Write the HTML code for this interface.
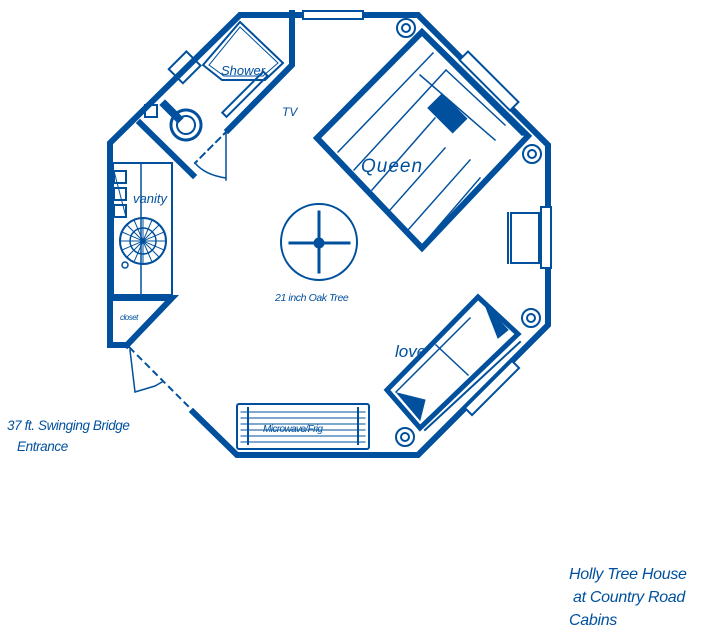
<!DOCTYPE html>
<html><head><style>
body{margin:0;background:#fff;}
svg{display:block}
text{font-family:"Liberation Sans",sans-serif;font-style:italic;fill:#00509d}
</style></head><body>
<svg width="706" height="636" viewBox="0 0 706 636" xmlns="http://www.w3.org/2000/svg">
<g stroke="#00509d" fill="none" stroke-linecap="square">
<polyline points="193,412 237,455 418,455 548,325 548,145 418,15 240,15 110,143 110,345 127,345" stroke-width="6"/>
<rect x="303" y="11" width="60" height="8" fill="#fff" stroke-width="2"/>
<rect x="541" y="207" width="10" height="61" fill="#fff" stroke-width="2"/>
<line x1="468" y1="60" x2="510" y2="102" stroke-width="14"/>
<line x1="468" y1="60" x2="510" y2="102" stroke-width="10" stroke="#fff"/>
<line x1="472" y1="408" x2="512" y2="368" stroke-width="12"/>
<line x1="472" y1="408" x2="512" y2="368" stroke-width="8" stroke="#fff"/>
<polyline points="292,13 292,65 228,130" stroke-width="6"/>
<line x1="140" y1="123" x2="193" y2="175" stroke-width="6"/>
<line x1="228" y1="130" x2="195" y2="163" stroke-width="2" stroke-dasharray="6,5"/>
<path d="M226,133 L226,180 M195,163 Q205,175 226,178" stroke-width="1.5"/>
<polygon points="240,22 283,63 265,80 222,80 203,65" stroke-width="2"/>
<polygon points="240,27 278,63 263,76 224,76 209,65" stroke-width="1"/>
<rect x="175" y="55" width="20" height="25" transform="rotate(45 185 67)" stroke-width="2"/>
<rect x="145" y="105" width="12" height="12" stroke-width="2"/>
<circle cx="186" cy="125" r="15" stroke-width="3" stroke-dasharray="2,1.5"/>
<circle cx="186" cy="125" r="9" stroke-width="2" stroke-dasharray="1,1"/>
<line x1="165" y1="105" x2="178" y2="118" stroke-width="8"/>
<rect x="254" y="86" width="6" height="58" transform="rotate(45 276 90)" stroke-width="2"/>
<rect x="113" y="163" width="59" height="132" stroke-width="2"/>
<line x1="141" y1="163" x2="141" y2="295" stroke-width="1.5"/>
<rect x="114" y="171" width="12" height="12" stroke-width="2"/>
<rect x="114" y="188" width="12" height="12" stroke-width="2"/>
<rect x="114" y="205" width="12" height="12" stroke-width="2"/>
<line x1="114" y1="171" x2="126" y2="217" stroke-width="1"/>
<circle cx="143" cy="241" r="23" stroke-width="2"/>
<circle cx="143" cy="241" r="13" stroke-width="1.5"/>
<g stroke-width="1">
<line x1="120" y1="241" x2="166" y2="241"/><line x1="143" y1="218" x2="143" y2="264"/>
<line x1="127" y1="225" x2="159" y2="257"/><line x1="159" y1="225" x2="127" y2="257"/>
<line x1="122" y1="232" x2="164" y2="250"/><line x1="122" y1="250" x2="164" y2="232"/>
<line x1="134" y1="220" x2="152" y2="262"/><line x1="152" y1="220" x2="134" y2="262"/>
</g>
<circle cx="125" cy="265" r="3" stroke-width="1.5"/>
<polyline points="110,298 172,298 127,345" stroke-width="6"/>
<line x1="130" y1="348" x2="190" y2="408" stroke-width="2" stroke-dasharray="5,6"/>
<path d="M130,350 L135,392 L155,386 L162,382" stroke-width="1.5"/>
<circle cx="319" cy="242" r="38" stroke-width="2"/>
<line x1="290" y1="243" x2="349" y2="243" stroke-width="3"/>
<line x1="319" y1="212" x2="319" y2="272" stroke-width="3"/>
<circle cx="319" cy="243" r="5" fill="#00509d"/>
<polygon points="422,32 528,136 422,248 317,138" stroke-width="6"/>
<g stroke-width="1.5">
<line x1="338" y1="152" x2="433" y2="53"/>
<line x1="354" y1="170" x2="446" y2="70"/>
<line x1="372" y1="190" x2="435" y2="118"/>
<line x1="390" y1="210" x2="445" y2="148"/>
<line x1="408" y1="230" x2="470" y2="160"/>
<line x1="425" y1="242" x2="480" y2="178"/>
<line x1="426" y1="38" x2="522" y2="134" stroke-width="3"/>
<line x1="434" y1="46" x2="514" y2="126"/>
<line x1="446" y1="70" x2="505" y2="125"/>
<line x1="420" y1="75" x2="495" y2="140"/>
</g>
<rect x="430" y="103" width="35" height="20" transform="rotate(45 447 113)" fill="#00509d" stroke-width="1"/>
<g stroke-width="2">
<circle cx="406" cy="28" r="9"/><circle cx="406" cy="28" r="4"/>
<circle cx="532" cy="154" r="9"/><circle cx="532" cy="154" r="4"/>
<circle cx="531" cy="318" r="9"/><circle cx="531" cy="318" r="4"/>
<circle cx="405" cy="437" r="9"/><circle cx="405" cy="437" r="4"/>
</g>
<rect x="511" y="213" width="28" height="50" stroke-width="2"/>
<line x1="508" y1="213" x2="508" y2="263" stroke-width="2"/>
<polygon points="478,297 518,334 420,428 387,390" stroke-width="5"/>
<line x1="396" y1="392" x2="470" y2="318" stroke-width="1.5"/>
<line x1="436" y1="345" x2="468" y2="375" stroke-width="1.5"/>
<line x1="425" y1="430" x2="520" y2="342" stroke-width="2"/>
<polygon points="485,305 508,330 498,338" fill="#00509d" stroke-width="1"/>
<polygon points="397,393 425,400 420,420" fill="#00509d" stroke-width="1"/>
<rect x="237" y="404" width="132" height="45" rx="2" stroke-width="2"/>
<g stroke-width="1">
<line x1="241" y1="412" x2="365" y2="412"/><line x1="241" y1="418" x2="365" y2="418"/>
<line x1="241" y1="424" x2="365" y2="424"/><line x1="241" y1="430" x2="365" y2="430"/>
<line x1="241" y1="436" x2="365" y2="436"/><line x1="241" y1="442" x2="365" y2="442"/>
</g>
<line x1="248" y1="408" x2="248" y2="444" stroke-width="2"/>
<line x1="358" y1="408" x2="358" y2="444" stroke-width="2"/>
</g>
<text x="221" y="75" font-size="13">Shower</text>
<text x="282" y="116" font-size="12">TV</text>
<text x="133" y="203" font-size="13">vanity</text>
<text x="120" y="320" font-size="8" letter-spacing="-0.5">closet</text>
<text x="361" y="172" font-size="19" letter-spacing="1">Queen</text>
<text x="275" y="301" font-size="10.5" letter-spacing="-0.4">21 inch Oak Tree</text>
<text x="395" y="357" font-size="17">love</text>
<text x="263" y="432" font-size="10" letter-spacing="-0.6">Microwave/Frig</text>
<text x="7" y="430" font-size="13.5" letter-spacing="-0.4">37 ft. Swinging Bridge</text>
<text x="17" y="451" font-size="13.5" letter-spacing="-0.4">Entrance</text>
<text x="569" y="579" font-size="16" letter-spacing="-0.3">Holly Tree House</text>
<text x="573" y="602" font-size="16" letter-spacing="-0.3">at Country Road</text>
<text x="569" y="625" font-size="16" letter-spacing="-0.3">Cabins</text>
</svg>
</body></html>
